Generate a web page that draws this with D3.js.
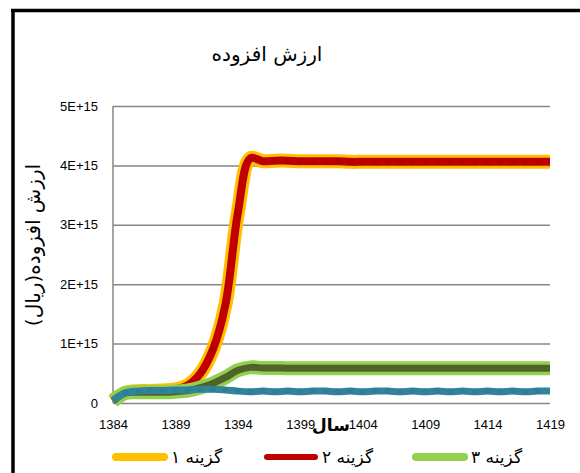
<!DOCTYPE html>
<html>
<head>
<meta charset="utf-8">
<script src="https://cdn.jsdelivr.net/npm/d3@7"></script>
<style>
  body { margin: 0; background: #fff; }
  svg { display: block; }
  .tick-label { font-family: "Liberation Sans", Arial, sans-serif; font-size: 13px; fill: #000; }
  .fa { font-family: "DejaVu Sans", sans-serif; fill: #000; }
</style>
</head>
<body>
<svg id="chart" width="580" height="473"></svg>
<script>
// categories (years)
var years = [1384, 1385, 1386, 1387, 1388, 1389, 1390, 1391, 1392, 1393, 1394, 1395,
  1396, 1397, 1398, 1399, 1400, 1401, 1402, 1403, 1404, 1405, 1406, 1407,
  1408, 1409, 1410, 1411, 1412, 1413, 1414, 1415, 1416, 1417, 1418, 1419];
var xTickYears = [1384, 1389, 1394, 1399, 1404, 1409, 1414, 1419];
var yTicks = [0, 1e15, 2e15, 3e15, 4e15, 5e15];

// series values, in units of 1E+15 rial
var option1 = [0.05, 0.17, 0.20, 0.20, 0.21, 0.23, 0.30, 0.50, 0.90, 1.65, 3.20, 4.12,
  4.07, 4.08, 4.08, 4.07, 4.07, 4.07, 4.07, 4.06, 4.06, 4.06, 4.06, 4.06,
  4.06, 4.06, 4.06, 4.06, 4.06, 4.06, 4.06, 4.06, 4.06, 4.06, 4.06, 4.06];
var option2 = [0.05, 0.17, 0.20, 0.20, 0.21, 0.23, 0.30, 0.50, 0.90, 1.65, 3.20, 4.12,
  4.07, 4.08, 4.08, 4.07, 4.07, 4.07, 4.07, 4.06, 4.06, 4.06, 4.06, 4.06,
  4.06, 4.06, 4.06, 4.06, 4.06, 4.06, 4.06, 4.06, 4.06, 4.06, 4.06, 4.06];
var option3 = [0.03, 0.17, 0.18, 0.18, 0.18, 0.19, 0.21, 0.26, 0.33, 0.43, 0.55, 0.60,
  0.59, 0.59, 0.585, 0.585, 0.585, 0.585, 0.585, 0.585, 0.585, 0.585, 0.585, 0.585,
  0.585, 0.585, 0.585, 0.585, 0.585, 0.585, 0.585, 0.585, 0.585, 0.585, 0.585, 0.585];
var option4 = [0.03, 0.17, 0.18, 0.18, 0.18, 0.19, 0.21, 0.26, 0.33, 0.43, 0.55, 0.60,
  0.59, 0.59, 0.585, 0.585, 0.585, 0.585, 0.585, 0.585, 0.585, 0.585, 0.585, 0.585,
  0.585, 0.585, 0.585, 0.585, 0.585, 0.585, 0.585, 0.585, 0.585, 0.585, 0.585, 0.585];
var option5 = [0.05, 0.17, 0.20, 0.21, 0.21, 0.22, 0.22, 0.23, 0.23, 0.22, 0.20, 0.19,
  0.20, 0.19, 0.20, 0.19, 0.20, 0.20, 0.19, 0.20, 0.19, 0.20, 0.20, 0.19,
  0.20, 0.19, 0.20, 0.19, 0.20, 0.19, 0.20, 0.19, 0.20, 0.19, 0.20, 0.20];

var seriesNames = ["گزینه ۱", "گزینه ۲", "گزینه ۳", "گزینه ۴", "گزینه ۵"];
var seriesColors = ["#FFC000", "#C00000", "#92D050", "#4F6228", "#31849B"];

var svg = d3.select("#chart");
var plotLeft = 113, plotRight = 550, plotTop = 106, plotBottom = 403;

var xScale = d3.scalePoint().domain(years).range([plotLeft, plotRight]);
var yScale = d3.scaleLinear().domain([0, 5e15]).range([plotBottom, plotTop]);

// black frame (only top and left visible)
svg.append("line").attr("x1", 11).attr("x2", 580).attr("y1", 10.5).attr("y2", 10.5)
  .attr("stroke", "#000").attr("stroke-width", 3.5);
svg.append("line").attr("x1", 13).attr("x2", 13).attr("y1", 9).attr("y2", 473)
  .attr("stroke", "#000").attr("stroke-width", 3.5);

// title
svg.append("text").attr("class", "fa")
  .attr("x", 267).attr("y", 61)
  .attr("text-anchor", "middle")
  .style("font-size", "20px")
  .text("ارزش افزوده");

// gridlines + y labels
var yAxis = d3.axisLeft(yScale)
  .tickValues(yTicks)
  .tickSize(-(plotRight - plotLeft))
  .tickPadding(15)
  .tickFormat(function (d) { return d === 0 ? "0" : (d / 1e15) + "E+15"; });
var gy = svg.append("g").attr("transform", "translate(" + plotLeft + ",0)").call(yAxis);
gy.select(".domain").remove();
gy.selectAll(".tick line").attr("stroke", "#868686").attr("stroke-width", 1.5);
gy.selectAll(".tick text").attr("class", "tick-label").attr("font-size", null).attr("font-family", null);

svg.append("line").attr("x1", plotLeft).attr("x2", plotLeft).attr("y1", plotTop).attr("y2", plotBottom)
  .attr("stroke", "#868686").attr("stroke-width", 1.5);

// x labels
var xAxis = d3.axisBottom(xScale).tickValues(xTickYears).tickSize(0).tickPadding(17);
var gx = svg.append("g").attr("transform", "translate(0," + plotBottom + ")").call(xAxis);
gx.select(".domain").remove();
gx.selectAll(".tick text").attr("class", "tick-label").attr("font-size", null).attr("font-family", null);

// axis titles
svg.append("text").attr("class", "fa")
  .attr("x", 331).attr("y", 431)
  .attr("text-anchor", "middle")
  .style("font-size", "17px").style("font-weight", "bold")
  .text("سال");

svg.append("text").attr("class", "fa")
  .attr("transform", "translate(40,245) rotate(-90)")
  .attr("text-anchor", "middle")
  .style("font-size", "20px")
  .text("ارزش افزوده(ریال)");

// lines
var line = d3.line()
  .x(function (d, i) { return xScale(years[i]); })
  .y(function (d) { return yScale(d * 1e15); })
  .curve(d3.curveCatmullRom.alpha(0.5));

var series = [
  { values: option1, color: seriesColors[0], width: 14 },
  { values: option2, color: seriesColors[1], width: 8, marker: "#B00000" },
  { values: option3, color: seriesColors[2], width: 14 },
  { values: option4, color: seriesColors[3], width: 7 },
  { values: option5, color: seriesColors[4], width: 7, marker: "#2E7F96" }
];

series.forEach(function (s) {
  svg.append("path")
    .datum(s.values)
    .attr("d", line)
    .attr("fill", "none")
    .attr("stroke", s.color)
    .attr("stroke-width", s.width)
    .attr("stroke-linejoin", "round");
  if (s.marker) {
    svg.append("g").selectAll("circle")
      .data(s.values.slice(1, -1))
      .enter()
      .append("circle")
      .attr("cx", function (d, i) { return xScale(years[i + 1]); })
      .attr("cy", function (d) { return yScale(d * 1e15); })
      .attr("r", 3)
      .attr("fill", s.marker);
  }
});

// legend (first row only, as in the picture)
var legendItems = [
  { x: 112, name: seriesNames[0], color: seriesColors[0], width: 8 },
  { x: 263, name: seriesNames[1], color: seriesColors[1], width: 6 },
  { x: 412, name: seriesNames[2], color: seriesColors[2], width: 8 }
];
var legendY = 457;
legendItems.forEach(function (it) {
  svg.append("line")
    .attr("x1", it.x + 4).attr("x2", it.x + 52)
    .attr("y1", legendY).attr("y2", legendY)
    .attr("stroke", it.color).attr("stroke-width", it.width)
    .attr("stroke-linecap", "round");
  svg.append("text").attr("class", "fa")
    .attr("x", it.x + 59).attr("y", legendY + 6)
    .style("font-size", "17px")
    .text(it.name);
});
</script>
</body>
</html>
